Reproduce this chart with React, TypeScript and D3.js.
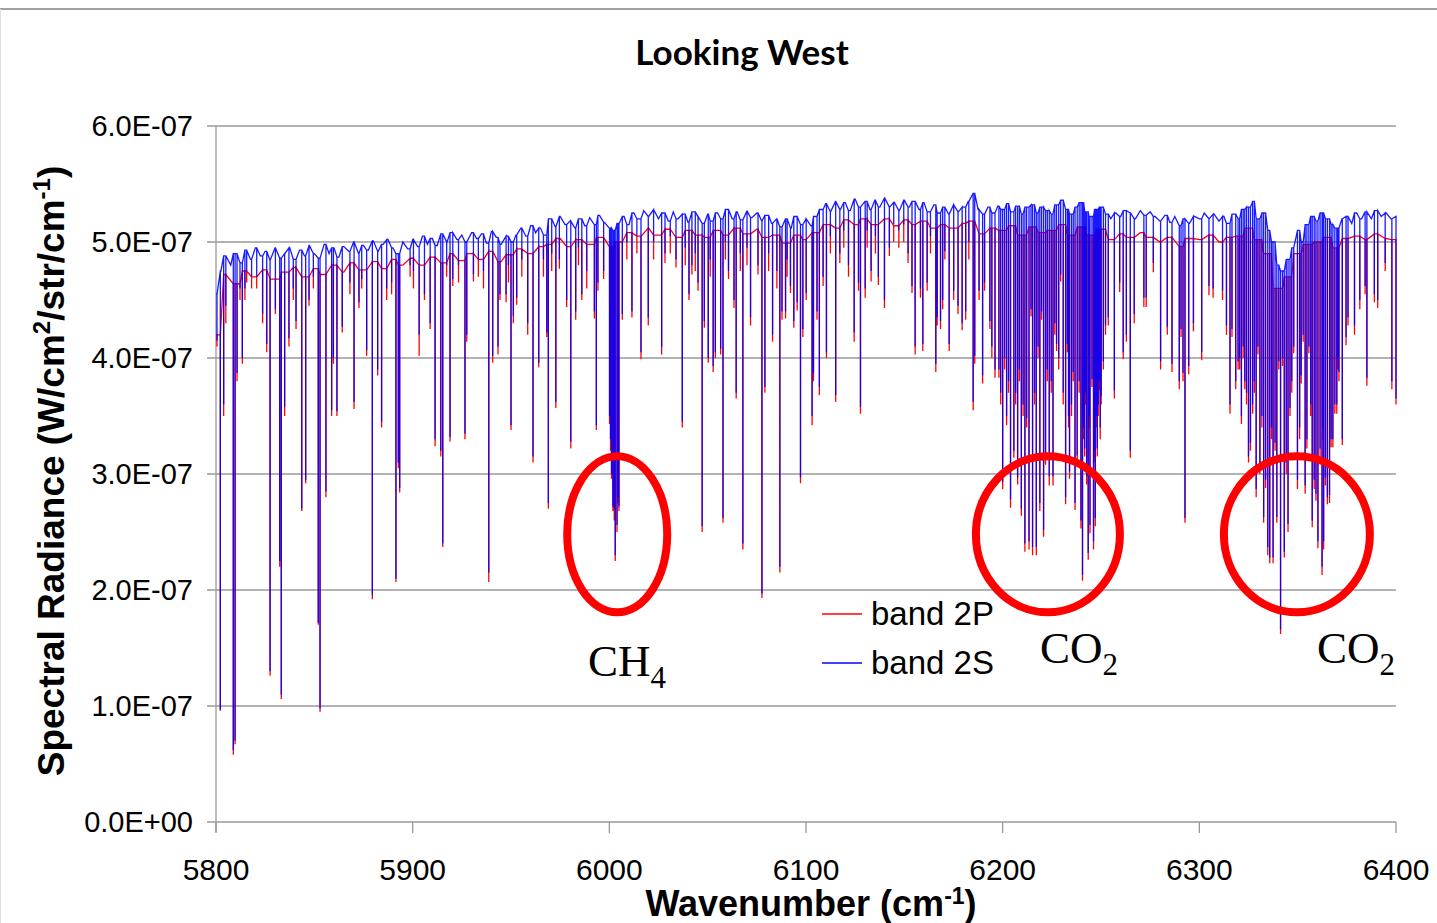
import React from "react";
import * as d3 from "d3";

// values in units of 1E-07 W/cm2/str/cm-1

// upper envelope of band 2P (red), one value every 5 cm-1 from 5800
const top2P = [
  4.2, 4.72, 4.64, 4.75, 4.7, 4.76, 4.68, 4.74, 4.78, 4.7, 4.77, 4.72, 4.8, 4.74, 4.82, 4.76, 4.83, 4.77, 4.85, 4.8,
  4.86, 4.8, 4.87, 4.82, 4.9, 4.84, 4.9, 4.85, 4.92, 4.83, 4.89, 4.94, 4.9, 4.96, 4.98, 5.03, 4.96, 5.02, 4.98, 5.04,
  4.96, 5.0, 5.08, 5.05, 5.12, 5.06, 5.11, 5.04, 5.1, 5.06, 5.04, 5.1, 5.06, 5.12, 5.07, 5.11, 5.04, 5.06, 4.99, 5.06,
  5.02, 5.08, 5.15, 5.12, 5.19, 5.15, 5.2, 5.15, 5.2, 5.14, 5.19, 5.15, 5.18, 5.12, 5.15, 5.12, 5.16, 5.18, 5.07, 5.12,
  5.1, 5.14, 5.06, 5.13, 5.08, 5.1, 5.15, 5.06, 5.13, 5.06, 5.11, 5.02, 5.07, 5.04, 5.08, 5.04, 5.0, 5.04, 4.96, 5.03,
  5.02, 5.06, 5.0, 5.04, 5.05, 5.12, 5.02, 4.9, 4.6, 4.7, 4.9, 4.98, 5.0, 5.04, 4.95, 5.03, 5.05, 5.02, 5.07, 5.03,
  5.02,
];

// upper envelope of band 2S (blue), one value every 2.5 cm-1 from 5800
const top2S = [
  4.55, 4.75, 4.88, 4.8, 4.9, 4.82, 4.93, 4.85, 4.95, 4.88, 4.92, 4.84, 4.95, 4.86, 4.9, 4.95, 4.85, 4.93, 4.88, 4.97,
  4.9, 4.86, 4.98, 4.9, 4.95, 4.87, 4.96, 4.92, 5.0, 4.9, 4.97, 4.93, 5.01, 4.92, 4.98, 5.02, 4.95, 4.9, 5.0, 4.94,
  5.02, 4.96, 5.05, 4.98, 5.03, 4.97, 5.07, 5.0, 5.08, 5.02, 5.06, 5.0, 5.08, 5.03, 5.07, 4.99, 5.09, 5.04, 4.98, 5.05,
  5.0, 5.06, 5.12, 5.05, 5.14, 5.08, 5.12, 5.06, 5.2, 5.13, 5.22, 5.15, 5.18, 5.12, 5.2, 5.14, 5.21, 5.15, 5.23, 5.17,
  5.12, 5.1, 5.16, 5.22, 5.15, 5.25, 5.2, 5.27, 5.22, 5.28, 5.2, 5.25, 5.18, 5.26, 5.2, 5.24, 5.17, 5.26, 5.22, 5.16,
  5.24, 5.18, 5.25, 5.2, 5.28, 5.2, 5.26, 5.19, 5.27, 5.21, 5.25, 5.18, 5.23, 5.16, 5.2, 5.13, 5.2, 5.12, 5.22, 5.15,
  5.2, 5.14, 5.22, 5.28, 5.33, 5.26, 5.35, 5.28, 5.34, 5.27, 5.37, 5.3, 5.35, 5.28, 5.36, 5.3, 5.38, 5.3, 5.34, 5.27,
  5.36, 5.3, 5.35, 5.28, 5.34, 5.26, 5.32, 5.25, 5.3, 5.24, 5.32, 5.26, 5.3, 5.35, 5.42, 5.28, 5.24, 5.3, 5.25, 5.31,
  5.28, 5.33, 5.26, 5.31, 5.24, 5.3, 5.32, 5.25, 5.3, 5.27, 5.24, 5.32, 5.36, 5.28, 5.24, 5.3, 5.34, 5.26, 5.22, 5.28,
  5.3, 5.24, 5.2, 5.25, 5.22, 5.27, 5.25, 5.2, 5.27, 5.23, 5.26, 5.22, 5.18, 5.23, 5.17, 5.22, 5.14, 5.2, 5.16, 5.22,
  5.2, 5.25, 5.2, 5.24, 5.18, 5.22, 5.16, 5.24, 5.2, 5.28, 5.3, 5.35, 5.2, 5.25, 5.1, 5.0, 4.8, 4.75, 4.85, 4.95,
  5.1, 5.0, 5.15, 5.22, 5.18, 5.25, 5.2, 5.15, 5.12, 5.2, 5.22, 5.16, 5.25, 5.2, 5.26, 5.2, 5.27, 5.22, 5.25, 5.2,
  5.22,
];

// absorption lines: [wavenumber, band 2P minimum, band 2S minimum]
const lines5800: number[][] = [
  [5800.5, 4.1, 4.15], [5802.2, 0.96, 0.97], [5803.9, 3.5, 3.6], [5805, 4.3, 4.45], [5808.8, 0.58, 0.62],
  [5809.7, 0.67, 0.7], [5810.7, 3.8, 3.87], [5812.2, 4.5, 4.6], [5813.4, 3.95, 4.0], [5814.7, 4.5, 4.6],
  [5815.6, 4.65, 4.75], [5818.1, 4.6, 4.7], [5820.7, 4.6, 4.7], [5823.7, 4.3, 4.38], [5825.8, 4.05, 4.12],
  [5827.5, 1.26, 1.3], [5830.2, 4.38, 4.42], [5832.4, 2.2, 2.25], [5833.2, 1.06, 1.1], [5834.9, 3.5, 3.58],
  [5837.1, 4.1, 4.17], [5839.3, 4.5, 4.6], [5840.7, 4.25, 4.32], [5843.6, 2.68, 2.7], [5845.6, 2.92, 2.95],
  [5847.3, 4.45, 4.5], [5849.5, 4.6, 4.7], [5852.0, 1.7, 1.72], [5852.9, 0.95, 0.98], [5855.9, 2.8, 2.85],
  [5858.8, 3.5, 3.55], [5859.7, 3.95, 4.0], [5861.5, 3.5, 3.54], [5864.2, 4.22, 4.27], [5868.1, 4.55, 4.65],
  [5870.2, 3.56, 3.62], [5872.7, 4.43, 4.48], [5874.1, 4.6, 4.68], [5876.6, 4.02, 4.07], [5879.5, 1.92, 1.96],
  [5882.2, 3.85, 3.9], [5884.2, 3.4, 3.45], [5886.8, 4.5, 4.6], [5889.3, 4.55, 4.65], [5891.5, 2.07, 2.1],
  [5892.7, 3.05, 3.1], [5893.4, 2.84, 2.88],
];

const lines5900: number[][] = [
  [5898.7, 4.7, 4.8], [5900.4, 4.6, 4.75], [5903.3, 4.02, 4.2], [5906.0, 4.5, 4.55], [5908.9, 4.25, 4.3],
  [5911.4, 3.24, 3.3], [5914.3, 3.15, 3.2], [5915.3, 2.37, 2.4], [5917.3, 4.7, 4.8], [5919.0, 3.28, 3.32],
  [5920.4, 4.62, 4.68], [5923.3, 4.65, 4.8], [5926.6, 3.3, 3.35], [5927.5, 4.14, 4.2], [5930.9, 4.66, 4.72],
  [5933.4, 4.7, 4.85], [5936.0, 4.6, 4.75], [5938.7, 2.07, 2.15], [5940.7, 3.96, 4.02], [5943.4, 4.03, 4.1],
  [5944.4, 4.5, 4.55], [5947.5, 4.48, 4.55], [5948.7, 4.65, 4.8], [5950.0, 3.38, 3.42], [5951.2, 4.3, 4.36],
  [5952.9, 4.46, 4.52], [5955.5, 4.7, 4.85], [5958.5, 4.2, 4.3], [5961.2, 3.1, 3.15], [5964.1, 3.92, 3.96],
  [5966.5, 4.7, 4.85], [5968.2, 4.18, 4.22], [5969.0, 2.7, 2.75], [5970.7, 4.75, 4.9], [5972.8, 3.57, 3.62],
  [5974.6, 4.77, 4.85], [5978.3, 4.44, 4.5], [5980.4, 3.22, 3.28], [5982.9, 4.33, 4.4], [5984.3, 4.8, 4.95],
  [5986.0, 4.5, 4.55], [5988.5, 4.6, 4.75], [5992.4, 4.34, 4.4], [5993.4, 3.38, 3.42],
];

const lines6000: number[][] = [
  [5994.2, 4.58, 4.65], [5997.1, 4.68, 4.75], [6000.1, 3.43, 3.5], [6000.6, 3.2, 3.3], [6001.1, 2.96, 3.0],
  [6001.8, 2.68, 2.72], [6002.1, 2.85, 2.9], [6002.5, 2.6, 2.7], [6003.0, 2.25, 2.3], [6003.9, 2.5, 2.56],
  [6004.3, 2.75, 2.8], [6004.9, 2.68, 2.72], [6006.6, 4.33, 4.38], [6008.9, 4.85, 5.0], [6011.5, 4.35, 4.4],
  [6014.0, 4.9, 5.05], [6016.1, 3.99, 4.05], [6019.8, 4.28, 4.35], [6022.5, 4.85, 5.0], [6026.6, 4.03, 4.1],
  [6028.3, 4.82, 4.9], [6031.0, 4.9, 5.05], [6033.9, 4.78, 4.85], [6037.1, 3.4, 3.45], [6038.6, 4.8, 4.95],
  [6040.5, 4.5, 4.55], [6042.0, 4.72, 4.8], [6043.7, 4.75, 4.9], [6045.1, 4.58, 4.65], [6047.2, 2.5, 2.55],
  [6048.3, 4.26, 4.32], [6050.3, 3.96, 4.0], [6051.3, 4.7, 4.85], [6052.8, 3.88, 3.93], [6053.9, 4.0, 4.05],
  [6056.6, 4.03, 4.08], [6057.8, 2.58, 2.62], [6059.0, 4.85, 5.0], [6060.6, 4.68, 4.75], [6063.4, 4.43, 4.5],
  [6064.5, 3.65, 3.7], [6066.6, 4.75, 4.9], [6067.9, 2.35, 2.4], [6070.0, 4.8, 4.95], [6071.8, 4.28, 4.35],
  [6075.6, 4.72, 4.8], [6077.6, 1.93, 1.97], [6079.1, 3.7, 3.75], [6081.0, 4.75, 4.9], [6083.0, 4.14, 4.2],
  [6085.2, 4.6, 4.75], [6086.7, 2.15, 2.2],
];

const lines6100: number[][] = [
  [6087.8, 4.33, 4.4], [6089.6, 4.34, 4.4], [6090.4, 4.7, 4.85], [6092.1, 4.56, 4.62], [6093.8, 4.26, 4.32],
  [6095.5, 4.41, 4.48], [6097.2, 2.92, 2.97], [6098.4, 4.18, 4.25], [6100.1, 4.5, 4.56], [6103.1, 3.42, 3.5],
  [6103.8, 3.8, 3.87], [6105.6, 4.33, 4.4], [6106.8, 3.68, 3.75], [6108.7, 4.62, 4.7], [6110.4, 4.0, 4.05],
  [6112.4, 4.9, 5.05], [6115.1, 3.62, 3.68], [6117.2, 4.82, 4.9], [6119.2, 4.95, 5.1], [6121.6, 4.7, 4.8],
  [6124.5, 4.14, 4.22], [6126.7, 4.58, 4.65], [6127.7, 3.52, 3.58], [6130.1, 4.52, 4.6], [6131.1, 4.95, 5.1],
  [6133.1, 4.66, 4.75], [6135.3, 4.9, 5.05], [6136.8, 4.63, 4.7], [6139.9, 4.43, 4.5], [6142.4, 4.88, 4.95],
  [6144.6, 5.0, 5.15], [6147.2, 4.95, 5.1], [6149.7, 5.0, 5.15], [6151.9, 4.82, 4.9], [6153.9, 4.56, 4.62],
  [6155.5, 4.03, 4.1], [6158.2, 4.52, 4.6], [6159.4, 4.06, 4.12], [6161.6, 4.58, 4.65], [6163.3, 4.9, 5.05],
  [6166.0, 3.88, 3.95], [6166.7, 4.28, 4.35], [6168.4, 4.25, 4.32], [6169.5, 4.42, 4.5], [6170.6, 4.85, 4.92],
  [6172.8, 4.06, 4.12], [6175.1, 4.5, 4.58], [6177.3, 4.38, 4.45], [6179.4, 4.24, 4.3], [6181.2, 4.33, 4.4],
  [6182.8, 4.85, 5.0], [6185.0, 3.55, 3.62], [6185.8, 3.95, 4.02],
];

const lines6200: number[][] = [
  [6188.0, 4.5, 4.58], [6189.8, 3.78, 3.85], [6190.8, 4.58, 4.65], [6193.5, 4.25, 4.32], [6194.5, 4.0, 4.1],
  [6196.1, 3.83, 3.9], [6198.1, 3.83, 3.9], [6199.0, 3.6, 3.7], [6200.0, 2.87, 2.93], [6201.0, 3.9, 4.0],
  [6202.0, 3.42, 3.5], [6203.0, 3.7, 3.8], [6204.0, 2.71, 2.78], [6205.7, 3.14, 3.2], [6206.6, 3.6, 3.7],
  [6207.6, 2.91, 2.97], [6208.5, 3.8, 3.9], [6209.5, 2.64, 2.7], [6210.4, 3.5, 3.6], [6211.3, 2.33, 2.4],
  [6212.2, 3.4, 3.48], [6213.4, 2.35, 2.42], [6214.4, 4.36, 4.42], [6215.2, 2.3, 2.37], [6216.2, 3.6, 3.7],
  [6217.1, 2.3, 2.37], [6218.0, 4.0, 4.1], [6218.9, 2.68, 2.75], [6219.8, 4.33, 4.4], [6220.8, 2.46, 2.52],
  [6221.8, 3.08, 3.15], [6222.7, 3.8, 3.9], [6223.7, 2.9, 2.98], [6224.7, 3.7, 3.8], [6225.6, 2.9, 2.98],
  [6226.5, 4.2, 4.3], [6227.4, 4.06, 4.12], [6228.5, 3.9, 4.0], [6229.5, 4.66, 4.72], [6230.8, 3.6, 3.7],
  [6232.0, 2.74, 2.8], [6232.9, 4.05, 4.12], [6233.5, 3.4, 3.5], [6234.0, 2.96, 3.02], [6235.0, 3.5, 3.6],
  [6235.9, 3.8, 3.88], [6236.8, 2.69, 2.75], [6237.9, 3.1, 3.16], [6238.9, 3.7, 3.8], [6239.8, 2.53, 2.6],
  [6240.6, 2.08, 2.13], [6241.2, 3.3, 3.4], [6241.7, 3.15, 3.22], [6242.2, 3.6, 3.7], [6242.7, 2.91, 2.98],
  [6243.5, 2.26, 2.32], [6243.9, 3.4, 3.5], [6244.4, 2.49, 2.56], [6245.4, 3.75, 3.82], [6246.2, 2.35, 2.42],
  [6246.7, 3.1, 3.2], [6247.1, 2.55, 2.62], [6247.6, 3.4, 3.5], [6248.1, 3.15, 3.22], [6248.6, 3.5, 3.6],
  [6249.1, 3.72, 3.8], [6249.6, 3.3, 3.4], [6250.1, 3.6, 3.67], [6251.2, 3.9, 3.97], [6252.3, 4.2, 4.28],
  [6253.7, 4.28, 4.35], [6256.8, 3.65, 3.72], [6259.5, 4.57, 4.65], [6261.3, 3.99, 4.05], [6262.9, 4.14, 4.2],
  [6264.9, 3.14, 3.2], [6266.9, 4.3, 4.38], [6271.8, 4.44, 4.52], [6273.0, 4.44, 4.52], [6276.6, 4.74, 4.82],
  [6280.3, 3.9, 3.97],
];

const lines6300: number[][] = [
  [6283.7, 4.2, 4.27], [6286.1, 3.88, 3.95], [6289.8, 3.73, 3.8], [6290.7, 4.18, 4.25], [6291.7, 3.8, 3.87],
  [6292.7, 2.58, 2.62], [6294.6, 3.86, 3.93], [6297.0, 4.23, 4.3], [6301.2, 3.98, 4.05], [6304.9, 4.54, 4.62],
  [6307.0, 4.52, 4.6], [6311.8, 4.5, 4.58], [6313.8, 4.2, 4.28], [6315.6, 3.52, 3.6], [6316.6, 4.18, 4.25],
  [6318.5, 3.73, 3.8], [6319.7, 3.9, 3.97], [6320.5, 3.9, 4.0], [6321.4, 3.43, 3.5], [6322.3, 4.0, 4.1],
  [6323.1, 3.73, 3.8], [6324.0, 3.6, 3.7], [6325.0, 3.1, 3.15], [6326.0, 3.2, 3.27], [6327.1, 3.52, 3.6],
  [6328.0, 3.7, 3.8], [6328.9, 2.8, 2.87], [6329.8, 4.03, 4.1], [6330.8, 3.0, 3.07], [6331.8, 3.4, 3.5],
  [6332.7, 2.58, 2.63], [6333.7, 2.88, 2.95], [6334.8, 2.3, 2.37], [6335.8, 2.23, 2.28], [6336.7, 3.3, 3.4],
  [6337.5, 2.23, 2.28], [6338.5, 3.2, 3.27], [6339.4, 2.58, 2.63], [6340.4, 3.9, 3.97], [6341.3, 1.62, 1.66],
  [6342.3, 3.93, 4.0], [6343.2, 2.28, 2.33], [6344.2, 3.0, 3.1], [6345.1, 2.5, 2.57], [6346.1, 3.5, 3.57],
  [6347.0, 3.7, 3.8], [6348.0, 4.04, 4.1], [6349.9, 2.87, 2.95], [6351.0, 3.3, 3.4], [6351.8, 3.78, 3.85],
  [6352.8, 4.14, 4.2], [6353.8, 2.83, 2.9], [6354.7, 3.22, 3.3], [6355.7, 4.04, 4.1], [6356.6, 3.5, 3.6],
  [6357.4, 2.54, 2.6], [6358.4, 2.87, 2.95], [6359.3, 2.77, 2.83], [6360.3, 2.36, 2.42], [6361.4, 3.15, 3.22],
  [6362.4, 2.13, 2.2], [6362.9, 3.3, 3.4], [6363.2, 2.35, 2.42], [6364.1, 2.9, 2.97], [6365.1, 2.74, 2.8],
  [6366.2, 2.75, 2.82], [6367.0, 3.23, 3.3], [6367.9, 3.23, 3.3], [6368.9, 3.52, 3.6], [6369.9, 3.52, 3.6],
  [6370.4, 3.9, 4.0], [6371.0, 3.8, 3.88], [6372.7, 3.25, 3.3], [6374.6, 4.11, 4.18], [6375.6, 4.28, 4.35],
  [6378.9, 4.2, 4.28], [6381.6, 4.42, 4.5], [6384.3, 4.55, 4.62], [6385.2, 3.76, 3.83], [6389.0, 4.48, 4.55],
  [6390.7, 4.43, 4.5], [6394.5, 4.75, 4.82], [6397.9, 3.73, 3.8], [6400.0, 3.6, 3.65],
];

const allLines = [...lines5800, ...lines5900, ...lines6000, ...lines6100, ...lines6200, ...lines6300];

const xTicks = [5800, 5900, 6000, 6100, 6200, 6300, 6400];
const yTicks = [0, 1, 2, 3, 4, 5, 6];
const yTickLabels = ["0.0E+00", "1.0E-07", "2.0E-07", "3.0E-07", "4.0E-07", "5.0E-07", "6.0E-07"];

const seriesNames = ["band 2P", "band 2S"];
const seriesColors = ["#ff0000", "#0000ff"];

// highlighted absorption bands: label, centre wavenumber, centre value
const bandMarks = [
  { name: "CH", sub: "4", nu: 6004, v: 2.48, rx: 50, lx: 588, ly: 676 },
  { name: "CO", sub: "2", nu: 6223, v: 2.48, rx: 72, lx: 1040, ly: 663 },
  { name: "CO", sub: "2", nu: 6349.6, v: 2.48, rx: 73, lx: 1317, ly: 663 },
];

const W = 1437;
const H = 923;
const left = 216;
const right = 1396;
const top = 126;
const bottom = 822;

const x = d3.scaleLinear().domain([5800, 6400]).range([left, right]);
const y = d3.scaleLinear().domain([0, 6]).range([bottom, top]);

// envelope points plus a vertical spike for every absorption line
function buildSeries(env: number[], step: number, k: number) {
  const pts: number[][] = env.map((v, i) => [5800 + i * step, v]);
  allLines.forEach((l) => {
    const t = env[Math.round((l[0] - 5800) / step)];
    pts.push([l[0], t], [l[0], l[k]], [l[0], t]);
  });
  pts.sort((a, b) => a[0] - b[0]);
  return pts;
}

const lineGen = d3
  .line<number[]>()
  .x((d) => x(d[0]))
  .y((d) => y(d[1]));

export default function App() {
  const path2P = lineGen(buildSeries(top2P, 5, 1)) || "";
  const path2S = lineGen(buildSeries(top2S, 2.5, 2)) || "";
  const axisFont = "'Liberation Sans', Arial, sans-serif";
  const gray = "#9a9a9a";

  return (
    <svg
      width={W}
      height={H}
      style={{ position: "absolute", left: 0, top: 0, background: "#fff" }}
      fontFamily={axisFont}
    >
      <line x1={0} x2={W} y1={9} y2={9} stroke="#a0a0a0" strokeWidth={2} />
      <line x1={0.5} x2={0.5} y1={9} y2={H} stroke="#e0e0e0" strokeWidth={1} />

      <text x={742} y={65} textAnchor="middle" fontFamily="Lato, 'Open Sans', sans-serif" fontWeight="bold" fontSize={35}>
        Looking West
      </text>

      {yTicks.map((t, i) => (
        <g key={"y" + t}>
          <line x1={left - 9} x2={right} y1={y(t)} y2={y(t)} stroke={gray} strokeWidth={1.3} />
          <text x={193} y={y(t) + 10} textAnchor="end" fontSize={29}>
            {yTickLabels[i]}
          </text>
        </g>
      ))}
      <line x1={left} x2={left} y1={top} y2={bottom + 10} stroke={gray} strokeWidth={1.3} />
      {xTicks.map((t) => (
        <g key={"x" + t}>
          <line x1={x(t)} x2={x(t)} y1={bottom} y2={bottom + 11} stroke={gray} strokeWidth={1.3} />
          <text x={x(t)} y={880} textAnchor="middle" fontSize={30}>
            {t}
          </text>
        </g>
      ))}

      <path d={path2P} fill="none" stroke={seriesColors[0]} strokeWidth={1.3} />
      <path d={path2S} fill="none" stroke={seriesColors[1]} strokeWidth={1.3} strokeOpacity={0.9} />

      {bandMarks.map((b, i) => (
        <g key={"b" + i}>
          <ellipse cx={x(b.nu)} cy={y(b.v)} rx={b.rx} ry={78} fill="none" stroke="#ff0000" strokeWidth={8} />
          <text x={b.lx} y={b.ly} fontFamily="'Liberation Serif', 'DejaVu Serif', serif" fontSize={45}>
            {b.name}
            <tspan fontSize={31} dy={12}>
              {b.sub}
            </tspan>
          </text>
        </g>
      ))}

      {seriesNames.map((s, i) => (
        <g key={s}>
          <line x1={822} x2={862} y1={614 + i * 49} y2={614 + i * 49} stroke={seriesColors[i]} strokeWidth={1.3} />
          <text x={871} y={625 + i * 49} fontSize={33}>
            {s}
          </text>
        </g>
      ))}

      <text transform="translate(64,471) rotate(-90)" textAnchor="middle" fontSize={37} fontWeight="bold">
        Spectral Radiance (W/cm
        <tspan fontSize={24} dy={-14}>2</tspan>
        <tspan dy={14}>/str/cm</tspan>
        <tspan fontSize={24} dy={-14}>-1</tspan>
        <tspan dy={14}>)</tspan>
      </text>
      <text x={811} y={916} textAnchor="middle" fontSize={36} fontWeight="bold">
        Wavenumber (cm
        <tspan fontSize={23} dy={-12}>-1</tspan>
        <tspan dy={12}>)</tspan>
      </text>
    </svg>
  );
}
